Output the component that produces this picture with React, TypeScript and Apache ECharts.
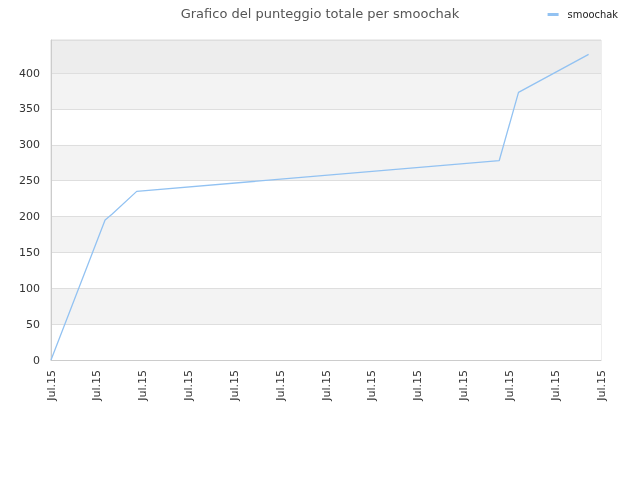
import React, { useEffect, useRef } from 'react';
import * as echarts from 'echarts';
import type { EChartsType } from 'echarts';

const title = 'Grafico del punteggio totale per smoochak';
const seriesName = 'smoochak';
const xTickLabel = 'Jul.15';
// x positions in tick units (12 ticks over the visible range)
const xValues = [0, 1.18, 1.33, 1.87, 9.78, 10.2, 11.73];
const scores = [0, 195, 203, 235, 278, 373, 426];

const App = () => {
  const chartRef = useRef<HTMLDivElement>(null);

  useEffect(() => {
    let chart: EChartsType | null = null;
    if (chartRef.current) {
      chart = echarts.init(chartRef.current, undefined, { renderer: 'svg' });
      chart.setOption({
        animation: false,
        title: {
          text: title,
          left: 'center',
          top: 2,
          textStyle: { fontFamily: 'DejaVu Sans', fontSize: 13, fontWeight: 'normal', color: '#555' }
        },
        legend: {
          right: 17,
          top: 4,
          icon: 'rect',
          itemWidth: 11,
          itemHeight: 3,
          textStyle: {
            fontFamily: 'DejaVu Sans Condensed',
            fontSize: 11,
            color: '#222',
            padding: [0, 0, 0, 4]
          },
          data: [seriesName]
        },
        grid: {
          left: 51,
          right: 39,
          top: 40,
          bottom: 120,
          show: true,
          borderColor: '#dddddd',
          borderWidth: 1,
          backgroundColor: 'transparent'
        },
        xAxis: {
          type: 'value',
          min: 0,
          max: 12,
          interval: 1,
          axisLine: { show: true, lineStyle: { color: '#cccccc' } },
          axisTick: { show: false },
          splitLine: { show: false },
          axisLabel: {
            rotate: 90,
            margin: 10,
            fontFamily: 'DejaVu Sans',
            fontSize: 11,
            color: '#333',
            formatter: () => xTickLabel
          }
        },
        yAxis: {
          type: 'value',
          min: 0,
          max: 446,
          interval: 50,
          axisLine: { show: true, lineStyle: { color: '#cccccc' } },
          axisTick: { show: false },
          axisLabel: {
            showMaxLabel: false,
            margin: 11,
            fontFamily: 'DejaVu Sans',
            fontSize: 11,
            color: '#333'
          },
          splitLine: { show: true, lineStyle: { color: '#dedede' } },
          splitArea: {
            show: true,
            areaStyle: {
              color: ['#ffffff', '#f3f3f3', '#ffffff', '#f3f3f3', '#ffffff', '#f3f3f3', '#ffffff', '#f3f3f3', '#ededed']
            }
          }
        },
        series: [
          {
            name: seriesName,
            type: 'line',
            data: xValues.map((x, i) => [x, scores[i]]),
            showSymbol: false,
            symbol: 'none',
            lineStyle: { color: '#92c2f2', width: 1.3 },
            itemStyle: { color: '#92c2f2' }
          }
        ]
      });
    }
    return () => {
      chart?.dispose();
    };
  }, []);

  return (
    <div
      ref={chartRef}
      style={{ position: 'fixed', left: 0, top: 0, width: '640px', height: '480px' }}
    ></div>
  );
};

export default App;
